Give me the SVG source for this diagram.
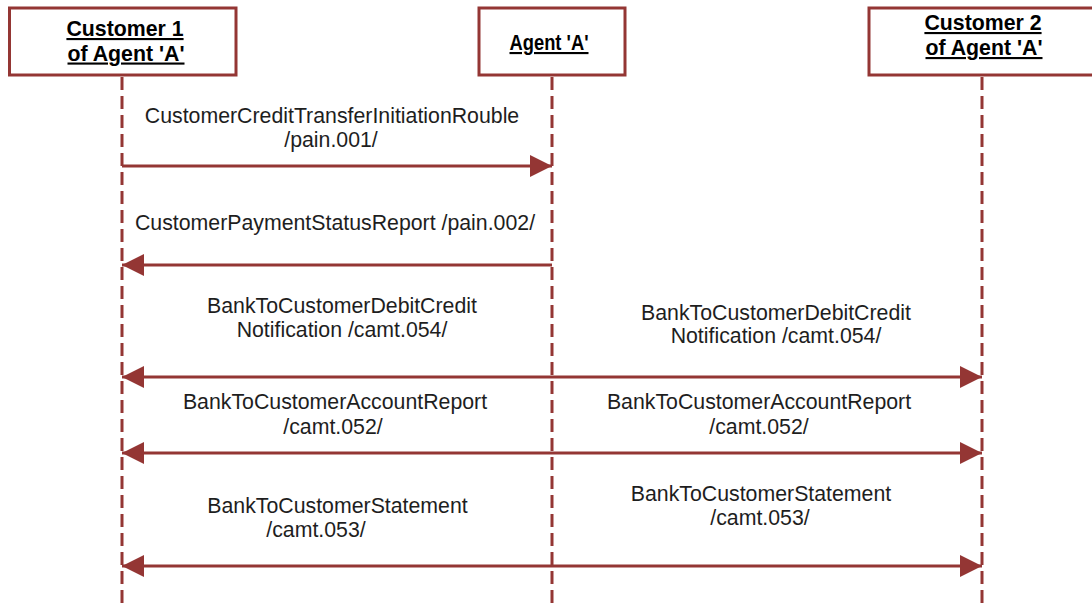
<svg xmlns="http://www.w3.org/2000/svg" width="1092" height="605" viewBox="0 0 1092 605">
<style>
.box{fill:#fff;stroke:#943634;stroke-width:3}
.life{stroke:#943634;stroke-width:3;stroke-dasharray:13 6;fill:none}
.msg{stroke:#943634;stroke-width:3;fill:none}
.title{font-family:"Liberation Sans",Arial,sans-serif;font-weight:bold;font-size:21.3px;fill:#000;text-anchor:middle;text-decoration:underline}
.lbl{font-family:"Liberation Sans",Arial,sans-serif;font-size:21.3px;fill:#1e1e1e;text-anchor:middle}
</style>
<defs>
<marker id="ah" markerUnits="userSpaceOnUse" markerWidth="23" markerHeight="23" refX="22" refY="11" orient="auto-start-reverse" viewBox="0 0 23 23">
<path d="M0,0 L22,11 L0,22 Z" fill="#943634"/>
</marker>
</defs>
<rect width="1092" height="605" fill="#fff"/>
<g id="lifelines">
<line class="life" x1="122" y1="77" x2="122" y2="605"/>
<line class="life" x1="552" y1="77" x2="552" y2="605"/>
<line class="life" x1="982" y1="77" x2="982" y2="605"/>
</g>
<g id="customer1">
<rect class="box" x="9.5" y="8" width="226.5" height="67"/>
<text class="title" x="125" y="36">Customer 1</text>
<text class="title" x="126" y="60.5">of Agent 'A'</text>
</g>
<g id="agentA">
<rect class="box" x="479" y="8" width="146" height="67"/>
<text class="title" x="549" y="50" font-size="20" textLength="79" lengthAdjust="spacingAndGlyphs">Agent 'A'</text>
</g>
<g id="customer2">
<rect class="box" x="869" y="8" width="240" height="67"/>
<text class="title" x="983" y="30">Customer 2</text>
<text class="title" x="984" y="55">of Agent 'A'</text>
</g>
<g id="connectors">
<line class="msg" x1="122" y1="166" x2="552" y2="166" marker-end="url(#ah)"/>
<line class="msg" x1="552" y1="265" x2="122" y2="265" marker-end="url(#ah)"/>
<line class="msg" x1="122" y1="377" x2="982" y2="377" marker-start="url(#ah)" marker-end="url(#ah)"/>
<line class="msg" x1="122" y1="453" x2="982" y2="453" marker-start="url(#ah)" marker-end="url(#ah)"/>
<line class="msg" x1="122" y1="566" x2="982" y2="566" marker-start="url(#ah)" marker-end="url(#ah)"/>
</g>
<g id="labels">
<text class="lbl" x="332" y="123">CustomerCreditTransferInitiationRouble</text>
<text class="lbl" x="331" y="147">/pain.001/</text>
<text class="lbl" x="335" y="230">CustomerPaymentStatusReport /pain.002/</text>
<text class="lbl" x="342" y="313">BankToCustomerDebitCredit</text>
<text class="lbl" x="342" y="337">Notification /camt.054/</text>
<text class="lbl" x="776" y="320">BankToCustomerDebitCredit</text>
<text class="lbl" x="776" y="343">Notification /camt.054/</text>
<text class="lbl" x="335" y="409">BankToCustomerAccountReport</text>
<text class="lbl" x="333" y="434">/camt.052/</text>
<text class="lbl" x="759" y="409">BankToCustomerAccountReport</text>
<text class="lbl" x="759" y="434">/camt.052/</text>
<text class="lbl" x="337.5" y="513">BankToCustomerStatement</text>
<text class="lbl" x="316" y="537">/camt.053/</text>
<text class="lbl" x="761" y="501">BankToCustomerStatement</text>
<text class="lbl" x="760" y="525">/camt.053/</text>
</g>
</svg>
